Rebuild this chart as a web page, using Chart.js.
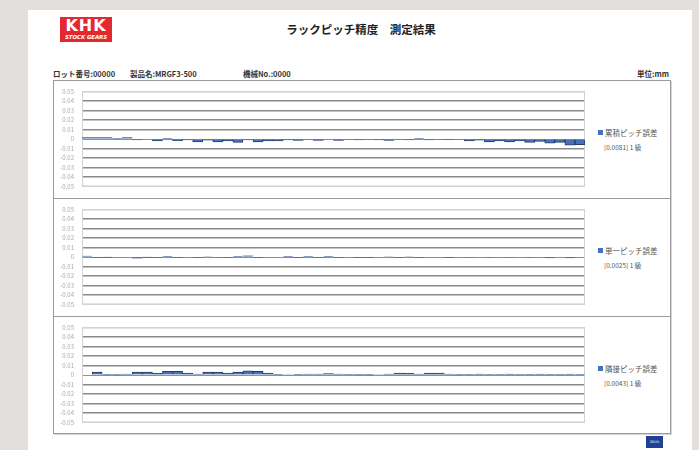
<!DOCTYPE html>
<html lang="ja">
<head>
<meta charset="utf-8">
<title>ラックピッチ精度 測定結果</title>
<script src="https://cdn.jsdelivr.net/npm/chart.js@4.4.1/dist/chart.umd.min.js"></script>
<style>
    html, body { margin: 0; padding: 0; }
    body {
        width: 699px; height: 450px; overflow: hidden; position: relative;
        background: #e3dfdc;
        font-family: "Noto Sans CJK JP", "Noto Sans", sans-serif;
        color: #222;
    }
    .abs { position: absolute; }
    .page { left: 28px; top: 10px; width: 664px; height: 450px; background: #fff; }
    .logo {
        left: 60px; top: 17px; width: 52px; height: 25px; background: #e3292f;
        color: #fff; text-align: center; font-family: "DejaVu Sans", sans-serif;
    }
    .logo .big { font-size: 16px; font-weight: bold; line-height: 16px; letter-spacing: 1px; margin-top: 1px; }
    .logo .small { font-size: 5.5px; font-weight: bold; font-style: italic; line-height: 7px; letter-spacing: -0.1px; }
    .title { left: 0; width: 722px; top: 21px; text-align: center; font-size: 11.5px; font-weight: bold; }
    .info { top: 68px; font-size: 7.5px; font-weight: bold; color: #333; white-space: nowrap; }
    .frame { left: 53px; top: 80px; width: 616px; height: 352px; border: 1px solid #9c9c9c; box-shadow: 1px 1px 0 #d6d6d6; }
    .sep { left: 53px; width: 617px; height: 0; border-top: 1px solid #9c9c9c; }
    .chartbox { left: 53px; width: 535px; height: 118px; }
    .legend { left: 598px; font-size: 7.5px; color: #555; white-space: nowrap; }
    .legend .sw { display: inline-block; width: 5px; height: 5px; background: #4572bd; margin-right: 2px; vertical-align: 1px; }
    .grade { left: 604px; font-size: 6.5px; color: #555; white-space: nowrap; }
    .zeiss {
        left: 646px; top: 436px; width: 17px; height: 12px; background: #203f99;
        color: #fff; font-size: 3px; line-height: 12px; text-align: center; font-family: "DejaVu Serif", serif;
    }
</style>
</head>
<body>
<div class="abs page"></div>
<div class="abs logo"><div class="big">KHK</div><div class="small">STOCK GEARS</div></div>
<div class="abs title">ラックピッチ精度　測定結果</div>
<div class="abs info" style="left:53px">ロット番号:00000</div>
<div class="abs info" style="left:130px">製品名:MRGF3-500</div>
<div class="abs info" style="left:243px">機械No.:0000</div>
<div class="abs info" style="left:637px">単位:mm</div>
<div class="abs frame"></div>
<div class="abs sep" style="top:198px"></div>
<div class="abs sep" style="top:316px"></div>
<div id="panels"></div>
<div class="abs zeiss">ZEISS</div>

<script>
// ピッチ番号
const pitchNo = [1, 2, 3, 4, 5, 6, 7, 8, 9, 10, 11, 12, 13, 14, 15, 16, 17, 18, 19, 20,
    21, 22, 23, 24, 25, 26, 27, 28, 29, 30, 31, 32, 33, 34, 35, 36, 37, 38, 39, 40,
    41, 42, 43, 44, 45, 46, 47, 48, 49, 50];

// 累積ピッチ誤差 (mm)
const cumulativeError = [0.0016, 0.0015, 0.0015, 0.0008, 0.0015, -0.001, 0, -0.002, 0.0002, -0.0018,
    -0.001, -0.003, -0.0012, -0.003, -0.002, -0.0035, -0.001, -0.003, -0.002, -0.002,
    -0.001, -0.0015, -0.0005, -0.0015, 0, -0.0015, -0.0005, -0.001, -0.0005, -0.001,
    -0.0015, -0.0005, -0.001, 0.0003, -0.001, -0.0005, -0.0008, -0.0005, -0.002, -0.0012,
    -0.003, -0.002, -0.003, -0.002, -0.0035, -0.0025, -0.0045, -0.0035, -0.0065, -0.006];

// 単一ピッチ誤差 (mm)
const singleError = [0.001, -0.0003, -0.0002, 0, 0, -0.0012, -0.0002, -0.0008, 0.0008, -0.0008,
    0, -0.0008, 0.0005, -0.0005, -0.0006, 0.0003, 0.0013, -0.0008, 0, 0,
    0.0002, -0.0003, 0.0004, -0.0004, 0.0004, -0.0008, 0, -0.0003, -0.0003, 0,
    0.0005, -0.0003, 0.0005, -0.0006, 0, 0, -0.0003, 0, -0.0005, 0,
    -0.0005, 0, -0.0005, 0, -0.0005, 0, -0.0009, 0, -0.0009, 0];

// 隣接ピッチ誤差 (mm)
const adjacentError = [null, 0.003, 0.0002, 0.0002, 0.001, 0.003, 0.003, 0.002, 0.004, 0.004,
    0.002, 0.001, 0.003, 0.003, 0.002, 0.003, 0.0043, 0.004, 0.002, 0.0003,
    0.0005, 0.0008, 0.001, 0.001, 0.0015, 0.001, 0.0008, 0.0002, 0.0002, 0.0005,
    0.001, 0.002, 0.0018, 0.001, 0.002, 0.002, 0.001, 0.0002, 0.0008, 0.0009,
    0.0008, 0.0008, 0.0009, 0.0008, 0.0008, 0.0009, 0.0008, 0.0008, 0.0009, 0.0008];

// 目盛ラベル (下から上)
const yTickLabels = ['-0.05', '-0.04', '-0.03', '-0.02', '-0.01', '0', '0.01', '0.02', '0.03', '0.04', '0.05'];

// 凡例
const seriesNames = ['累積ピッチ誤差', '単一ピッチ誤差', '隣接ピッチ誤差'];
const gradeTexts = ['[0.0081] 1 級', '[0.0025] 1 級', '[0.0043] 1 級'];
const seriesData = [cumulativeError, singleError, adjacentError];

const panelTops = [80, 198, 316];

// プロット枠
const plotFrame = {
    id: 'plotFrame',
    beforeDatasetsDraw(chart) {
        const { ctx, chartArea: a } = chart;
        ctx.save();
        ctx.strokeStyle = '#d2d2d2';
        ctx.lineWidth = 1;
        ctx.strokeRect(a.left + 0.5, a.top + 0.5, a.right - a.left - 1, a.bottom - a.top - 1);
        ctx.restore();
    }
};

Chart.defaults.font.family = '"Noto Sans CJK JP", "Noto Sans", sans-serif';

const panels = document.getElementById('panels');

seriesData.forEach((values, n) => {
    const top = panelTops[n];

    const box = document.createElement('div');
    box.className = 'abs chartbox';
    box.style.top = top + 'px';
    const canvas = document.createElement('canvas');
    canvas.width = 535;
    canvas.height = 118;
    box.appendChild(canvas);
    panels.appendChild(box);

    // 凡例 (HTML)
    const leg = document.createElement('div');
    leg.className = 'abs legend';
    leg.style.top = (top + 47) + 'px';
    leg.innerHTML = '<span class="sw"></span>' + seriesNames[n];
    panels.appendChild(leg);

    const grade = document.createElement('div');
    grade.className = 'abs grade';
    grade.style.top = (top + 62) + 'px';
    grade.textContent = gradeTexts[n];
    panels.appendChild(grade);

    new Chart(canvas.getContext('2d'), {
        type: 'bar',
        data: {
            labels: pitchNo,
            datasets: [{
                label: seriesNames[n],
                data: values,
                backgroundColor: '#4572bd',
                borderColor: '#283c60',
                borderWidth: 1,
                borderSkipped: 'start',
                barPercentage: 1,
                categoryPercentage: 1
            }]
        },
        options: {
            responsive: false,
            animation: false,
            layout: { padding: { top: 9, bottom: 9, left: 0, right: 3 } },
            plugins: {
                legend: { display: false },
                tooltip: { enabled: false }
            },
            scales: {
                x: { display: false },
                y: {
                    min: -0.05,
                    max: 0.05,
                    border: { display: false },
                    grid: {
                        drawTicks: false,
                        color: (c) => (c.index === 0 || c.index === 10) ? '#d2d2d2'
                            : (c.index === 5 ? '#8f8f8f' : '#8a8a8a'),
                        lineWidth: (c) => (c.index === 0 || c.index === 10 || c.index === 5) ? 1 : 1.5
                    },
                    ticks: {
                        stepSize: 0.01,
                        autoSkip: false,
                        padding: 8,
                        color: '#a8a8a8',
                        font: { size: 6 },
                        callback: (v, i) => yTickLabels[i]
                    },
                    afterFit: (s) => { s.width = 29; }
                }
            }
        },
        plugins: [plotFrame]
    });
});
</script>
</body>
</html>
